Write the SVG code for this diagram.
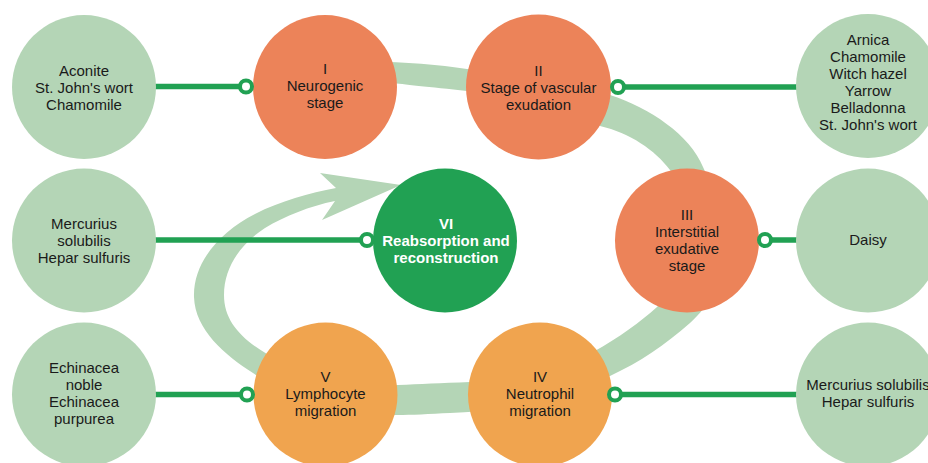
<svg xmlns="http://www.w3.org/2000/svg" width="928" height="463" viewBox="0 0 928 463">
<style>
text{font-family:"Liberation Sans",Arial,sans-serif;font-size:15px;fill:#1a1a1a;text-anchor:middle}
.rem{fill:#b4d5b6}
.st{fill:#ec8359}
.st2{fill:#f0a44f}
.vi{fill:#21a153}
.wt{fill:#fff;font-weight:bold}
.ln{stroke:#21a153;stroke-width:5.5;fill:none}
.ring{fill:#fff;stroke:#21a153;stroke-width:4}
.band{fill:#b4d5b6}
</style>
<g id="cycle-arrow">
<path class="band" d="M340,61 C380,61 430,63 467,69 C520,74 575,85 610,95 C650,108 690,135 703,167 C716,195 728,225 726,250 C724,280 710,305 690,323 C665,345 640,362 610,376 C560,400 500,412 450,413 C430,414 410,415 398,415 C340,416 290,398 253,373 C225,355 195,330 194,297 C193,262 220,232 255,214 C280,201 310,193 336,188 L320,173 L401,185 L322,220 L335,201 C310,206 285,216 265,228 C240,244 224,268 224,295 C224,320 240,338 267,354 C300,376 350,386 398,385 C420,384 440,383 470,382 C520,380 560,370 593,352 C620,337 640,322 657,307 C680,285 692,262 692,240 C692,210 682,188 670,170 C655,150 630,133 600,126 C560,112 510,96 467,91 C430,87 400,84 393,83 L340,83 Z"/>
</g>
<g id="connectors">
<line class="ln" x1="150" y1="86.5" x2="246" y2="86.5"/>
<line class="ln" x1="150" y1="240" x2="367" y2="240"/>
<line class="ln" x1="150" y1="394.5" x2="247" y2="394.5"/>
<line class="ln" x1="618" y1="87" x2="800" y2="87"/>
<line class="ln" x1="765" y1="240" x2="800" y2="240"/>
<line class="ln" x1="615" y1="394.5" x2="800" y2="394.5"/>
</g>
<g id="rem-1"><circle class="rem" cx="84" cy="87" r="72"/>
<text x="84" y="76">Aconite</text><text x="84" y="93">St. John's wort</text><text x="84" y="110">Chamomile</text></g>
<g id="rem-2"><circle class="rem" cx="84" cy="240.5" r="72"/>
<text x="84" y="229">Mercurius</text><text x="84" y="246">solubilis</text><text x="84" y="263">Hepar sulfuris</text></g>
<g id="rem-3"><circle class="rem" cx="84" cy="394.5" r="72"/>
<text x="84" y="373">Echinacea</text><text x="84" y="390">noble</text><text x="84" y="407">Echinacea</text><text x="84" y="424">purpurea</text></g>
<g id="rem-4"><circle class="rem" cx="868" cy="86" r="72"/>
<text x="868" y="44.5">Arnica</text><text x="868" y="61.5">Chamomile</text><text x="868" y="78.5">Witch hazel</text><text x="868" y="95.5">Yarrow</text><text x="868" y="112.5">Belladonna</text><text x="868" y="129.5">St. John's wort</text></g>
<g id="rem-5"><circle class="rem" cx="868" cy="240.5" r="72"/>
<text x="868" y="245">Daisy</text></g>
<g id="rem-6"><circle class="rem" cx="868" cy="394.5" r="72"/>
<text x="868" y="389.5">Mercurius solubilis</text><text x="868" y="406.5">Hepar sulfuris</text></g>
<g id="stage-1"><circle class="st" cx="325" cy="87" r="72"/>
<text x="325" y="74">I</text><text x="325" y="91">Neurogenic</text><text x="325" y="108">stage</text></g>
<g id="stage-2"><circle class="st" cx="538.5" cy="87" r="72.5"/>
<text x="538.5" y="76">II</text><text x="538.5" y="93">Stage of vascular</text><text x="538.5" y="110">exudation</text></g>
<g id="stage-3"><circle class="st" cx="687" cy="240.5" r="72"/>
<text x="687" y="220">III</text><text x="687" y="237">Interstitial</text><text x="687" y="254">exudative</text><text x="687" y="271">stage</text></g>
<g id="stage-4"><circle class="st2" cx="540" cy="394.5" r="72"/>
<text x="540" y="382">IV</text><text x="540" y="399">Neutrophil</text><text x="540" y="416">migration</text></g>
<g id="stage-5"><circle class="st2" cx="325.5" cy="394.5" r="72"/>
<text x="325.5" y="382">V</text><text x="325.5" y="399">Lymphocyte</text><text x="325.5" y="416">migration</text></g>
<g id="stage-6"><circle class="vi" cx="445" cy="240.5" r="72"/>
<text class="wt" x="446" y="229">VI</text><text class="wt" x="446" y="246">Reabsorption and</text><text class="wt" x="446" y="263">reconstruction</text></g>
<g id="rings">
<circle class="ring" cx="246" cy="86.5" r="6"/>
<circle class="ring" cx="367" cy="240" r="6"/>
<circle class="ring" cx="247" cy="394.5" r="6"/>
<circle class="ring" cx="618" cy="87" r="6"/>
<circle class="ring" cx="765" cy="240" r="6"/>
<circle class="ring" cx="615" cy="394.5" r="6"/>
</g>
</svg>
